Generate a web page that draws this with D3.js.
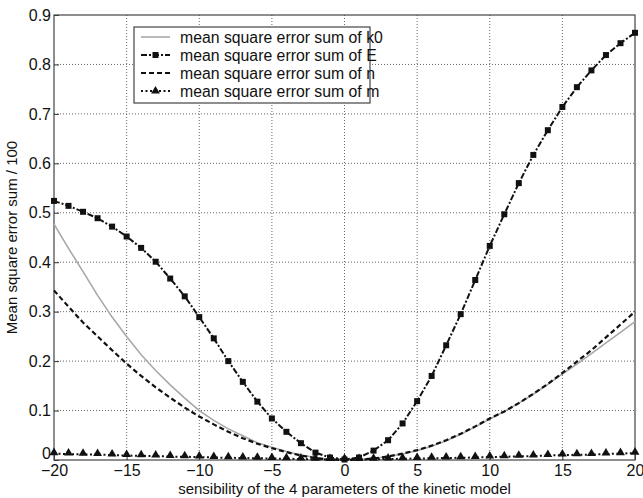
<!DOCTYPE html>
<html>
<head>
<meta charset="utf-8">
<script src="https://cdn.jsdelivr.net/npm/d3@7/dist/d3.min.js"></script>
<style>
  body { margin: 0; background: #fff; }
  text { font-family: "Liberation Sans", Arial, sans-serif; fill: #111; }
</style>
</head>
<body>
<script>
// sensitivity steps
const xs = d3.range(-20, 21);

// mean square error sum of k0 (grey, solid)
const k0 = [0.477, 0.428, 0.381, 0.333, 0.289, 0.250, 0.213, 0.181, 0.152, 0.125,
  0.100, 0.080, 0.063, 0.049, 0.035, 0.026, 0.017, 0.010, 0.005, 0.001,
  0.000, 0.001, 0.003, 0.007, 0.012, 0.019, 0.028, 0.039, 0.052, 0.067,
  0.083, 0.098, 0.115, 0.133, 0.153, 0.174, 0.194, 0.215, 0.237, 0.258, 0.280];

// mean square error sum of E (dash-dot, squares)
const eSum = [0.524, 0.514, 0.502, 0.489, 0.472, 0.452, 0.429, 0.401, 0.367, 0.331,
  0.289, 0.246, 0.200, 0.158, 0.118, 0.084, 0.057, 0.034, 0.015, 0.005,
  0.001, 0.005, 0.019, 0.040, 0.074, 0.119, 0.170, 0.232, 0.295, 0.364,
  0.433, 0.497, 0.560, 0.617, 0.667, 0.714, 0.754, 0.788, 0.819, 0.843, 0.864];

// mean square error sum of n (dashed)
const nSum = [0.343, 0.310, 0.278, 0.250, 0.222, 0.195, 0.170, 0.147, 0.126, 0.106,
  0.088, 0.072, 0.057, 0.044, 0.033, 0.024, 0.016, 0.009, 0.004, 0.001,
  0.000, 0.001, 0.003, 0.007, 0.013, 0.020, 0.029, 0.040, 0.053, 0.068,
  0.084, 0.098, 0.115, 0.134, 0.154, 0.176, 0.199, 0.222, 0.248, 0.274, 0.300];

// mean square error sum of m (dotted, triangles)
const mSum = [0.013, 0.012, 0.0115, 0.011, 0.010, 0.009, 0.0085, 0.008, 0.007, 0.0065,
  0.006, 0.005, 0.0045, 0.004, 0.0035, 0.003, 0.0025, 0.002, 0.0015, 0.001,
  0.001, 0.001, 0.0015, 0.002, 0.0025, 0.003, 0.0035, 0.004, 0.0045, 0.005,
  0.006, 0.0065, 0.0075, 0.008, 0.009, 0.010, 0.0105, 0.011, 0.012, 0.013, 0.014];

const xTicks = [-20, -15, -10, -5, 0, 5, 10, 15, 20];
const yTicks = [0, 0.1, 0.2, 0.3, 0.4, 0.5, 0.6, 0.7, 0.8, 0.9];
const legendLabels = ['mean square error sum of k0', 'mean square error sum of E',
  'mean square error sum of n', 'mean square error sum of m'];

let width = 643, height = 498;
let pL = 54, pR = 635, pT = 15, pB = 460;

let svg = d3.select('body').append('svg')
  .attr('width', width)
  .attr('height', height);

let x = d3.scaleLinear().domain([-20, 20]).range([pL, pR]);
let y = d3.scaleLinear().domain([0, 0.9]).range([pB, pT]);

// grid
let grid = svg.append('g')
  .attr('stroke', '#666')
  .attr('stroke-width', 1)
  .attr('stroke-dasharray', '1,2');
grid.selectAll('.vx').data(xTicks.slice(1, -1)).enter().append('line')
  .attr('x1', (d) => x(d)).attr('x2', (d) => x(d))
  .attr('y1', pT).attr('y2', pB);
grid.selectAll('.hy').data(yTicks.slice(1, -1)).enter().append('line')
  .attr('x1', pL).attr('x2', pR)
  .attr('y1', (d) => y(d)).attr('y2', (d) => y(d));

// axes with inward ticks
let xAxis = svg.append('g')
  .attr('transform', `translate(0,${pB})`)
  .call(d3.axisBottom(x).tickValues(xTicks).tickSize(-5).tickPadding(5).tickFormat(d3.format('d')));
let yAxis = svg.append('g')
  .attr('transform', `translate(${pL},0)`)
  .call(d3.axisLeft(y).tickValues(yTicks).tickSize(-5).tickPadding(3).tickFormat((d) => d === 0 ? '0' : d3.format('.1f')(d)));
[xAxis, yAxis].forEach((a) => {
  a.select('.domain').remove();
  a.selectAll('line').attr('stroke', '#333');
  a.selectAll('text')
    .style('font-family', '"Liberation Sans", Arial, sans-serif')
    .style('font-size', '16px')
    .attr('fill', '#111');
});
// lift the "0" on the y axis a little so it clears "-20"
yAxis.selectAll('.tick').filter((d) => d === 0).select('text').attr('dy', '-0.1em');

// frame
svg.append('rect')
  .attr('x', pL).attr('y', pT)
  .attr('width', pR - pL).attr('height', pB - pT)
  .attr('fill', 'none').attr('stroke', '#444').attr('stroke-width', 1.2);

let line = (vals) => d3.line()
  .x((d, i) => x(xs[i]))
  .y((d) => y(d))(vals);

let series = [
  { vals: k0, color: '#a8a8a8', width: 1.6, dash: null, marker: null },
  { vals: eSum, color: '#111', width: 2, dash: '6,2,2,2', marker: 'square' },
  { vals: nSum, color: '#111', width: 2.2, dash: '5,3', marker: null },
  { vals: mSum, color: '#111', width: 2, dash: '2,2.5', marker: 'triangle' },
];

let symbolFor = (m) => d3.symbol()
  .type(m === 'square' ? d3.symbolSquare : d3.symbolTriangle)
  .size(m === 'square' ? 36 : 34);

series.forEach((s) => {
  svg.append('path')
    .attr('d', line(s.vals))
    .attr('fill', 'none')
    .attr('stroke', s.color)
    .attr('stroke-width', s.width)
    .attr('stroke-dasharray', s.dash);
  if (s.marker) {
    svg.append('g').selectAll('path').data(s.vals).enter().append('path')
      .attr('transform', (d, i) => `translate(${x(xs[i])},${y(d) - (s.marker === 'triangle' ? 1 : 0)})`)
      .attr('d', symbolFor(s.marker))
      .attr('fill', '#111');
  }
});

// legend
let lg = svg.append('g');
lg.append('rect')
  .attr('x', 134).attr('y', 27).attr('width', 236).attr('height', 76)
  .attr('fill', '#fff').attr('stroke', '#444').attr('stroke-width', 1.2);
series.forEach((s, i) => {
  let ly = 37 + i * 18;
  lg.append('line')
    .attr('x1', 141).attr('x2', 170).attr('y1', ly).attr('y2', ly)
    .attr('stroke', s.color).attr('stroke-width', s.width)
    .attr('stroke-dasharray', s.dash);
  if (s.marker) {
    lg.append('path').attr('transform', `translate(155.5,${ly})`).attr('d', symbolFor(s.marker)).attr('fill', '#111');
  }
  lg.append('text')
    .attr('x', 180).attr('y', ly + 5.5)
    .style('font-size', '15.8px')
    .text(legendLabels[i]);
});

// axis titles
svg.append('text')
  .attr('x', (pL + pR) / 2).attr('y', 494)
  .attr('text-anchor', 'middle')
  .style('font-size', '15px')
  .text('sensibility of the 4 parameters of the kinetic model');
svg.append('text')
  .attr('transform', `translate(17,${(pT + pB) / 2}) rotate(-90)`)
  .attr('text-anchor', 'middle')
  .style('font-size', '15px')
  .text('Mean square error sum / 100');
</script>
</body>
</html>
